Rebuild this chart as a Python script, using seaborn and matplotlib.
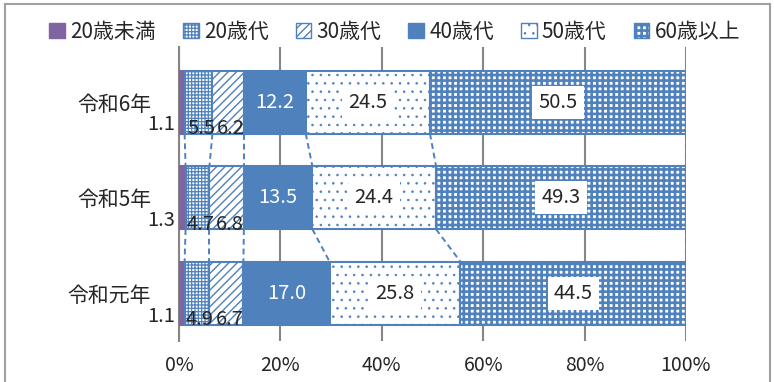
import numpy as np
import matplotlib
matplotlib.use("Agg")
import matplotlib.pyplot as plt
from matplotlib.patches import Patch, Rectangle
import seaborn as sns

# data (percent), top row first
years = ["令和6年", "令和5年", "令和元年"]
groups = ["20歳未満", "20歳代", "30歳代", "40歳代", "50歳代", "60歳以上"]
under20 = [1.1, 1.3, 1.1]
age20s = [5.5, 4.7, 4.9]
age30s = [6.2, 6.8, 6.7]
age40s = [12.2, 13.5, 17.0]
age50s = [24.5, 24.4, 25.8]
over60 = [50.5, 49.3, 44.5]
x_ticks = [0, 20, 40, 60, 80, 100]

series = [under20, age20s, age30s, age40s, age50s, over60]

sns.set_theme(style="white")
plt.rcParams["font.family"] = ["Noto Sans CJK JP", "DejaVu Sans"]

blue = "#4F81BD"
purple = "#8064A2"
faces = [purple, "white", "white", blue, "white", "white"]
edges = [purple, blue, blue, blue, blue, blue]
hatches = [None, "+++++", "////", None, "..", "+++"]
hatch_lw = [1.0, 0.9, 1.0, 1.0, 0.6, 1.9]

fig, ax = plt.subplots(figsize=(7.74, 3.82), dpi=100)
fig.subplots_adjust(left=179 / 774, right=686 / 774, top=1 - 47 / 382, bottom=1 - 341 / 382)

bar_w = 0.66
vals = np.array(series)
lefts = np.vstack([np.zeros(len(years)), np.cumsum(vals, axis=0)[:-1]])
cums = np.cumsum(vals, axis=0)

for k in range(len(groups)):
    with plt.rc_context({"hatch.linewidth": hatch_lw[k]}):
        sns.barplot(x=vals[k], y=years, orient="h", left=lefts[k], color=faces[k],
                    saturation=1, width=bar_w, edgecolor=edges[k], linewidth=1.5,
                    hatch=hatches[k], ax=ax, zorder=3)

# dashed series lines between bars
for i in range(len(years) - 1):
    for k in range(len(groups)):
        ax.plot([cums[k][i], cums[k][i + 1]], [i + bar_w / 2, i + 1 - bar_w / 2],
                color=blue, ls=(0, (3, 2)), lw=1.4, zorder=2)

# data labels
fs = 14.5
for i in range(len(years)):
    ax.text(-0.8, i + 0.24, f"{vals[0][i]:.1f}", ha="right", va="center", fontsize=fs)
    for k in (1, 2):
        ax.text(lefts[k][i] + vals[k][i] / 2 + 0.6, i + 0.28, f"{vals[k][i]:.1f}",
                ha="center", va="center", fontsize=fs, zorder=5)
    ax.text(lefts[3][i] + vals[3][i] / 2, i, f"{vals[3][i]:.1f}", ha="center",
            va="center", fontsize=fs, color="white", zorder=5)
    for k in (4, 5):
        ax.text(lefts[k][i] + vals[k][i] / 2, i, f"{vals[k][i]:.1f}", ha="center",
                va="center", fontsize=fs, zorder=5,
                bbox=dict(boxstyle="square,pad=0.3", fc="white", ec="none"))

ax.set_xlim(0, 100)
ax.set_ylim(len(years) - 0.5, -0.576)
ax.set_xticks(x_ticks)
ax.set_xticklabels([f"{t}%" for t in x_ticks], fontsize=14)
ax.set_xlabel("")
ax.set_ylabel("")
ax.tick_params(axis="x", length=0, pad=10)
ax.tick_params(axis="y", which="major", length=0, pad=20, labelsize=15)
ax.set_yticks(np.arange(len(years) + 1) - 0.5, minor=True)
ax.tick_params(axis="y", which="minor", length=5, width=1.5, color="#868686", direction="out")
ax.grid(axis="x", color="#868686", lw=1.5, zorder=0)
ax.set_axisbelow(True)
for side in ("top", "right", "bottom"):
    ax.spines[side].set_visible(False)
ax.spines["left"].set_color("#868686")
ax.spines["left"].set_linewidth(1.5)

handles = [Patch(facecolor=faces[k], edgecolor=edges[k], hatch=hatches[k], label=groups[k])
           for k in range(len(groups))]
leg = fig.legend(handles=handles, loc="center", bbox_to_anchor=(0.51, 1 - 32 / 382), ncol=6,
                 frameon=False, fontsize=15, handlelength=0.75, handleheight=0.75,
                 handletextpad=0.25, columnspacing=1.3)
for p, lw in zip(leg.get_patches(), hatch_lw):
    if hasattr(p, "set_hatch_linewidth"):
        p.set_hatch_linewidth(lw)

fig.add_artist(Rectangle((5 / 774, -0.02), 765 / 774, 1 - 4 / 382 + 0.02,
                         transform=fig.transFigure, fill=False, ec="#A0A0A0", lw=1.5))

fig.savefig("out.png", dpi=100)
